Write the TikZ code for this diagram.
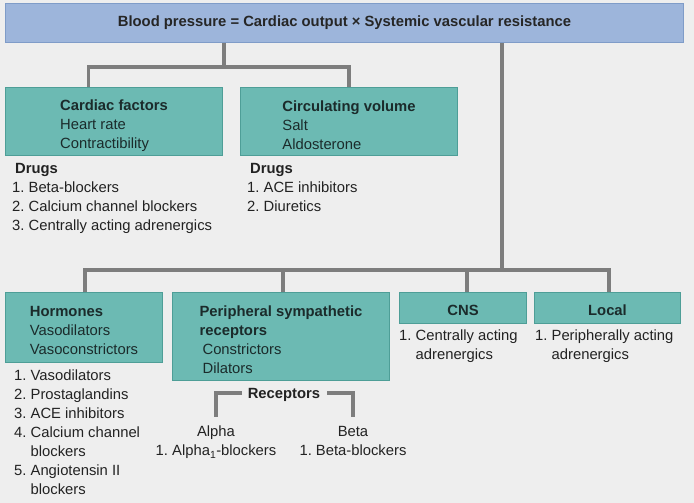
\documentclass[tikz,border=0pt]{standalone}
\usepackage{fontspec}
\setmainfont{Liberation Sans}
\frenchspacing
\definecolor{bg}{HTML}{EEEEEE}
\definecolor{titlefill}{HTML}{9DB5DB}
\definecolor{titledraw}{HTML}{7F9CC8}
\definecolor{tealfill}{HTML}{6CBAB3}
\definecolor{tealdraw}{HTML}{4E9E97}
\definecolor{boxtext}{HTML}{1B2B2B}
\definecolor{conncol}{HTML}{7D7D7D}
\definecolor{bodytext}{HTML}{222222}
\tikzset{
  txt/.style={font=\fontsize{14.8}{19}\selectfont, text=bodytext, align=left, inner sep=0pt},
  box/.style={fill=tealfill, draw=tealdraw, line width=1pt, inner sep=0pt, anchor=north west},
  boxtxt/.style={text=boxtext, font=\fontsize{14.8}{19}\selectfont, align=left, inner sep=0pt},
  conn/.style={draw=conncol, line width=3.5pt},
}
\begin{document}
\begin{tikzpicture}[x=1pt,y=-1pt]
\fill[bg] (0,0) rectangle (694,503);
\useasboundingbox (0,0) rectangle (694,503);

% title
\node[fill=titlefill, draw=titledraw, line width=1pt, minimum width=678pt, minimum height=39pt, anchor=north west, inner sep=0pt,
      font=\fontsize{14.8}{16}\selectfont\bfseries, text=black!85] (title) at (5,3)
  {Blood pressure = Cardiac output × Systemic vascular resistance};

% upper boxes
\node[box, minimum width=217pt, minimum height=68pt] (cardiac) at (5,87) {};
\node[boxtxt] (cardiact) at ([yshift=-4pt]cardiac.center)
  {\textbf{Cardiac factors}\\Heart rate\\Contractibility};
\node[box, minimum width=217pt, minimum height=68pt] (circ) at (240,87) {};
\node[boxtxt] (circt) at ([yshift=-4pt]circ.center)
  {\textbf{Circulating volume}\\Salt\\Aldosterone};

\node[txt, anchor=north west] (cdrugs) at (12,163)
  {\hspace{3pt}\textbf{Drugs}\\1. Beta-blockers\\2. Calcium channel blockers\\3. Centrally acting adrenergics};
\node[txt, anchor=north west] (vdrugs) at (247,163)
  {\hspace{3pt}\textbf{Drugs}\\1. ACE inhibitors\\2. Diuretics};

% lower boxes
\node[box, minimum width=157pt, minimum height=70pt] (horm) at (5,292) {};
\node[boxtxt] (hormt) at ([yshift=-3pt]horm.center)
  {\textbf{Hormones}\\Vasodilators\\Vasoconstrictors};
\node[box, minimum width=217pt, minimum height=88pt] (periph) at (172,292) {};
\node[boxtxt] (periplt) at ([yshift=-3pt]periph.center)
  {\textbf{Peripheral sympathetic}\\\textbf{receptors}\\\hspace{3pt}Constrictors\\\hspace{3pt}Dilators};
\node[box, minimum width=127pt, minimum height=31pt] (cns) at (399,292) {};
\node[boxtxt, font=\fontsize{14.8}{19}\selectfont\bfseries] (cnst) at ([yshift=-2pt]cns.center) {CNS};
\node[box, minimum width=146pt, minimum height=31pt] (local) at (534,292) {};
\node[boxtxt, font=\fontsize{14.8}{19}\selectfont\bfseries] (localt) at ([yshift=-2pt]local.center) {Local};

\node[txt, anchor=north west] (hlist) at (14,370)
  {1. Vasodilators\\2. Prostaglandins\\3. ACE inhibitors\\4. Calcium channel\\\phantom{4. }blockers\\5. Angiotensin II\\\phantom{5. }blockers};
\node[txt, anchor=north west] (cnslist) at (399,330)
  {1. Centrally acting\\\phantom{1. }adrenergics};
\node[txt, anchor=north west] (loclist) at (535,330)
  {1. Peripherally acting\\\phantom{1. }adrenergics};

% receptors
\node[txt, font=\fontsize{14.8}{19}\selectfont\bfseries] (rec) at (284,395) {Receptors};
\node[txt, align=center, anchor=north] (alpha) at (216,426) {Alpha\\1. Alpha\textsubscript{1}-blockers};
\node[txt, align=center, anchor=north] (beta) at (353,426) {Beta\\1. Beta-blockers};
\coordinate (rl) at (242,393);
\coordinate (rr) at (327,393);
\draw[conn] (rl) -| ([yshift=9pt]alpha.north);
\draw[conn] (rr) -| ([yshift=9pt]beta.north);

% connectors upper
\coordinate (j1) at (224,67);
\draw[conn] (title.south -| j1) -- (j1);
\draw[conn] ([xshift=-25.5pt]cardiac.north) |- (circ.north |- j1) -- (circ.north);

% connectors lower
\coordinate (j2) at (502,270);
\draw[conn] (title.south -| j2) -- (j2);
\coordinate (hl) at (85,270);
\coordinate (lr) at (609,270);
\draw[conn] (horm.north -| hl) -- (hl) -- (lr) -- (local.north -| lr);
\draw[conn] (283,270) -- (periph.north -| 283,0);
\draw[conn] (467,270) -- (cns.north -| 467,0);
\end{tikzpicture}
\end{document}
